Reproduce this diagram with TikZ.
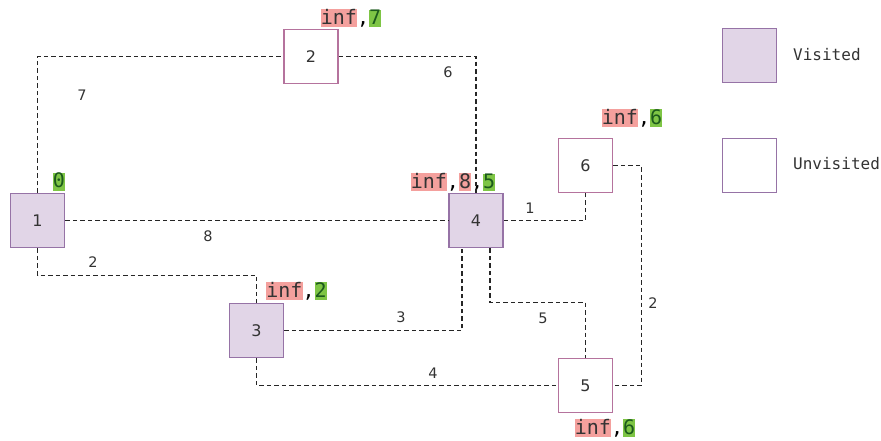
\documentclass[tikz,border=0pt]{standalone}
\usepackage{fontspec}
\setsansfont{DejaVu Sans}
\setmonofont{DejaVu Sans Mono}
\usetikzlibrary{calc}

\definecolor{visfill}{HTML}{E1D5E7}
\definecolor{visdraw}{HTML}{9673A6}
\definecolor{unvdraw}{HTML}{B5739D}
\definecolor{infred}{HTML}{F4A09D}
\definecolor{distgreen}{HTML}{7EC545}
\definecolor{darkgreen}{HTML}{1C5A1C}
\definecolor{textgray}{HTML}{333333}

\newcommand{\infbox}[1]{{\setlength{\fboxsep}{0pt}\colorbox{infred}{\rule[-3pt]{0pt}{17pt}\textcolor{textgray}{#1}}}}
\newcommand{\distbox}[1]{{\setlength{\fboxsep}{0pt}\colorbox{distgreen}{\rule[-3pt]{0pt}{17pt}\textcolor{darkgreen}{#1}}}}

\tikzset{
  visited/.style={draw=visdraw, fill=visfill, line width=1.5pt, minimum size=54pt, inner sep=0pt,
    text=textgray, font=\sffamily\fontsize{16}{19}\selectfont},
  unvisited/.style={visited, draw=unvdraw, fill=white},
  edge/.style={draw=black!85, line width=1.5pt, dash pattern=on 4.5pt off 3pt},
  weight/.style={text=textgray, inner sep=0pt, font=\sffamily\fontsize{14.5}{17}\selectfont},
  dist/.style={inner sep=0pt, font=\ttfamily\fontsize{20}{24}\selectfont},
  legendtext/.style={anchor=west, inner sep=0pt, text=textgray, font=\ttfamily\fontsize{16}{19}\selectfont}
}

\begin{document}
\begin{tikzpicture}[x=1pt,y=-1pt]
\useasboundingbox (0,0) rectangle (881,441);

% graph nodes
\node[visited] (n1) at (37.5,220.5) {1};
\node[unvisited] (n2) at (311,56.5) {2};
\node[visited] (n3) at (256.5,330.5) {3};
\node[visited] (n4) at (476,220.5) {4};
\node[unvisited] (n5) at (585.5,385.5) {5};
\node[unvisited] (n6) at (585.5,165.5) {6};

% distances
\node[dist] (d1) at (59,182) {\distbox{0}};
\node[dist] (d2) at (351,18) {\infbox{inf},\distbox{7}};
\node[dist] (d3) at (296.5,291) {\infbox{inf},\distbox{2}};
\node[dist] (d4) at (453,182) {\infbox{inf},\infbox{8},\distbox{5}};
\node[dist] (d5) at (605,428) {\infbox{inf},\distbox{6}};
\node[dist] (d6) at (632,118) {\infbox{inf},\distbox{6}};

% edges
\draw[edge] (n1.north) |- (n2.west);
\draw[edge] (n2.east) -| (n4.north);
\draw[edge] (n1.east) -- (n4.west);
\draw[edge] (n1.south) -- ++(0,27) -| (n3.north);
\draw[edge] (n3.east) -| ($(n4.south)!0.5!(n4.south west)$);
\draw[edge] ($(n4.south)!0.5!(n4.south east)$) -- ++(0,54) -| (n5.north);
\draw[edge] (n3.south) |- (n5.west);
\draw[edge] (n4.east) -| (n6.south);
\draw[edge] (n6.east) -- ++(28,0) |- (n5.east);

% weights
\node[weight] (w12) at (82,95) {7};
\node[weight] (w24) at (448,72) {6};
\node[weight] (w14) at (208,236) {8};
\node[weight] (w13) at (93,262) {2};
\node[weight] (w34) at (401,317) {3};
\node[weight] (w45) at (543,318) {5};
\node[weight] (w35) at (433,373) {4};
\node[weight] (w46) at (530,208) {1};
\node[weight] (w65) at (653,303) {2};

% legend
\node[visited] (lv) at (749.5,55.5) {};
\node[visited, draw=visdraw, fill=white] (lu) at (749.5,165.5) {};
\node[legendtext] (tv) at (793,55) {Visited};
\node[legendtext] (tu) at (793,164) {Unvisited};
\end{tikzpicture}
\end{document}
